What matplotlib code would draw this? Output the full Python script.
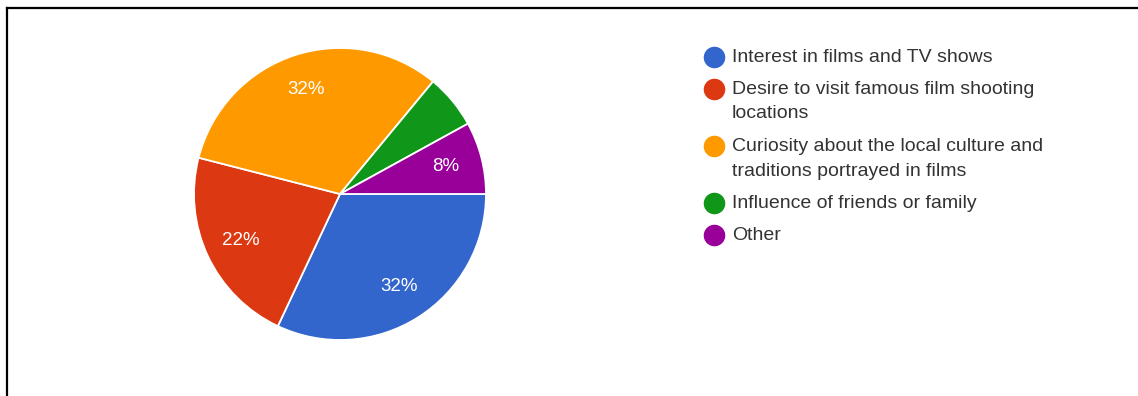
import matplotlib
matplotlib.use('Agg')
import matplotlib.pyplot as plt
from matplotlib.lines import Line2D

plt.rcParams['font.family'] = ['Liberation Sans', 'DejaVu Sans']

# survey answers (share of respondents, %)
labels = [
    "Interest in films and TV shows",
    "Desire to visit famous film shooting\nlocations",
    "Curiosity about the local culture and\ntraditions portrayed in films",
    "Influence of friends or family",
    "Other",
]
shares = [32, 22, 32, 6, 8]
colors = ["#3366CC", "#DC3912", "#FF9900", "#109618", "#990099"]

W, H = 1138, 396
fig = plt.figure(figsize=(W / 100, H / 100), dpi=100)

# pie placed by pixel centre / radius
cx, cy, r = 340, 194, 146
ax = fig.add_axes([(cx - r) / W, (H - cy - r) / H, 2 * r / W, 2 * r / H])
wedges, texts, autotexts = ax.pie(
    shares, colors=colors, startangle=0, counterclock=False,
    autopct=lambda p: f"{p:.0f}%" if p >= 7 else "",
    pctdistance=0.75,
    wedgeprops=dict(edgecolor="white", linewidth=1.3),
    textprops=dict(color="white", fontsize=13.5),
)
ax.set_xlim(-1.0, 1.0)
ax.set_ylim(-1.0, 1.0)
ax.axis('off')

# legend drawn by hand so wrapped labels line up with the first line
x_dot, x_txt = 714, 732
line_h, gap = 25, 32
y = 57
for lab, col in zip(labels, colors):
    lines = lab.split("\n")
    fig.lines.append(Line2D([x_dot / W], [1 - y / H], transform=fig.transFigure,
                            marker='o', markersize=14.5, color=col, linestyle='none'))
    for k, ln in enumerate(lines):
        fig.text(x_txt / W, 1 - (y + k * line_h) / H, ln, ha='left', va='center',
                 fontsize=14, color="#333333")
    y += (len(lines) - 1) * line_h + gap

# frame: top and left rules only
fig.lines.append(Line2D([7 / W, 1], [1 - 8 / H, 1 - 8 / H], transform=fig.transFigure,
                        color='black', linewidth=1.6))
fig.lines.append(Line2D([7 / W, 7 / W], [0, 1 - 8 / H], transform=fig.transFigure,
                        color='black', linewidth=1.6))

fig.savefig('out.png', dpi=100)
